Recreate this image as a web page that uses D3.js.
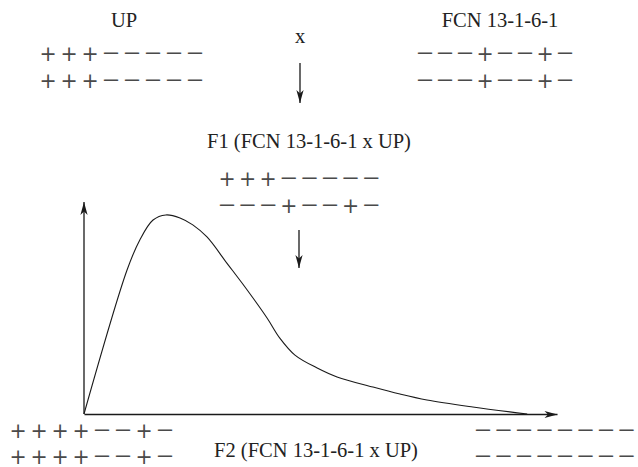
<!DOCTYPE html>
<html>
<head>
<meta charset="utf-8">
<script src="https://d3js.org/d3.v7.min.js"></script>
<style>
  body { margin: 0; background: #fff; }
  svg { display: block; }
</style>
</head>
<body>
<div class="chart"></div>
<script>
// sign patterns
const upSigns = ["+++-----", "+++-----"];
const fcnSigns = ["---+--+-", "---+--+-"];
const f1Signs = ["+++-----", "---+--+-"];
const f2LeftSigns = ["++++--+-", "++++--+-"];
const f2RightSigns = ["--------", "--------"];

// labels
const labels = ["UP", "x", "FCN 13-1-6-1", "F1 (FCN 13-1-6-1 x UP)", "F2 (FCN 13-1-6-1 x UP)"];

// distribution curve (arbitrary units, x 0-100, y 0-100)
const curveX = [0, 9.1, 11.8, 14.6, 17.3, 20.3, 23, 26, 30.2, 34.5, 38.7, 41.4, 44.6, 49.3, 53.5, 61.1, 66.8, 72.5, 82.2, 93.7];
const curveY = [0, 67.9, 82.1, 91.5, 93.9, 92.5, 89.2, 83.5, 71.2, 58.5, 45.3, 35.8, 27.8, 21.7, 17.5, 12.7, 9.4, 6.6, 3.3, 0];

const width = 638, height = 467;

const svg = d3.select('.chart')
    .append('svg')
    .attr('width', width)
    .attr('height', height);

const defs = svg.append('defs');
defs.append('marker')
    .attr('id', 'head')
    .attr('viewBox', '-14 -5 16 10')
    .attr('markerWidth', 16)
    .attr('markerHeight', 10)
    .attr('markerUnits', 'userSpaceOnUse')
    .attr('refX', 0)
    .attr('refY', 0)
    .attr('orient', 'auto')
    .append('path')
    .attr('d', 'M0,0 L-13,-3.6 L-9.5,0 L-13,3.6 Z')
    .attr('fill', '#1a1a1a');

const xScale = d3.scaleLinear().domain([0, 100]).range([84, 557]);
const yScale = d3.scaleLinear().domain([0, 100]).range([414, 202]);

// axes without ticks, arrows on the ends
const xAxis = d3.axisBottom(xScale).tickValues([]).tickSizeOuter(0);
const yAxis = d3.axisLeft(yScale).tickValues([]).tickSizeOuter(0);

svg.append('g')
    .attr('transform', `translate(0, ${yScale(0)})`)
    .call(xAxis)
    .select('.domain')
    .attr('stroke', '#1a1a1a')
    .attr('stroke-width', 1.3)
    .attr('marker-end', 'url(#head)');

svg.append('g')
    .attr('transform', `translate(${xScale(0)}, 0)`)
    .call(yAxis)
    .select('.domain')
    .attr('d', `M0,${yScale(0)}V${yScale(100)}`)
    .attr('stroke', '#1a1a1a')
    .attr('stroke-width', 1.3)
    .attr('marker-end', 'url(#head)');

const line = d3.line()
    .x(d => xScale(d[0]))
    .y(d => yScale(d[1]))
    .curve(d3.curveCatmullRom.alpha(0.5));

svg.append('path')
    .datum(d3.zip(curveX, curveY))
    .attr('d', line)
    .attr('fill', 'none')
    .attr('stroke', '#1a1a1a')
    .attr('stroke-width', 1.1);

// down arrows
const arrows = [[300, 63, 103], [299, 230, 268]];
svg.selectAll('line.arrow')
    .data(arrows)
    .enter()
    .append('line')
    .attr('class', 'arrow')
    .attr('x1', d => d[0]).attr('y1', d => d[1])
    .attr('x2', d => d[0]).attr('y2', d => d[2])
    .attr('stroke', '#1a1a1a')
    .attr('stroke-width', 1.3)
    .attr('marker-end', 'url(#head)');

// text labels
const labelPos = [[124, 27, 'middle'], [300, 43, 'middle'], [500, 27, 'middle'], [309, 148, 'middle'], [316, 457, 'middle']];
svg.selectAll('text.label')
    .data(labels)
    .enter()
    .append('text')
    .attr('class', 'label')
    .attr('x', (d, i) => labelPos[i][0])
    .attr('y', (d, i) => labelPos[i][1])
    .attr('text-anchor', (d, i) => labelPos[i][2])
    .attr('font-family', '"Liberation Serif", "Times New Roman", serif')
    .attr('font-size', 20.5)
    .attr('fill', '#222')
    .text(d => d);

// sign blocks
const blocks = [
    {rows: upSigns, x0: 48, pitch: 21, ys: [54, 81]},
    {rows: fcnSigns, x0: 425, pitch: 20, ys: [54, 81]},
    {rows: f1Signs, x0: 227, pitch: 20.6, ys: [179, 206]},
    {rows: f2LeftSigns, x0: 18, pitch: 21, ys: [431, 457]},
    {rows: f2RightSigns, x0: 483, pitch: 20.5, ys: [431, 457]}
];

blocks.forEach(b => {
    b.rows.forEach((row, r) => {
        const signs = row.split('');
        const xs = d3.scaleLinear().domain([0, 1]).range([b.x0, b.x0 + b.pitch]);
        svg.append('g')
            .selectAll('text')
            .data(signs)
            .enter()
            .append('text')
            .attr('x', (d, i) => xs(i))
            .attr('y', d => b.ys[r] + (d === '+' ? 6.5 : 4.5))
            .attr('text-anchor', 'middle')
            .attr('font-family', '"DejaVu Sans", sans-serif')
            .attr('font-size', d => d === '+' ? 20.5 : 19)
            .attr('fill', '#4a4a4a')
            .attr('textLength', d => d === '+' ? null : 19)
            .attr('lengthAdjust', 'spacingAndGlyphs')
            .text(d => d === '+' ? '+' : '\u2212');
    });
});
</script>
</body>
</html>
